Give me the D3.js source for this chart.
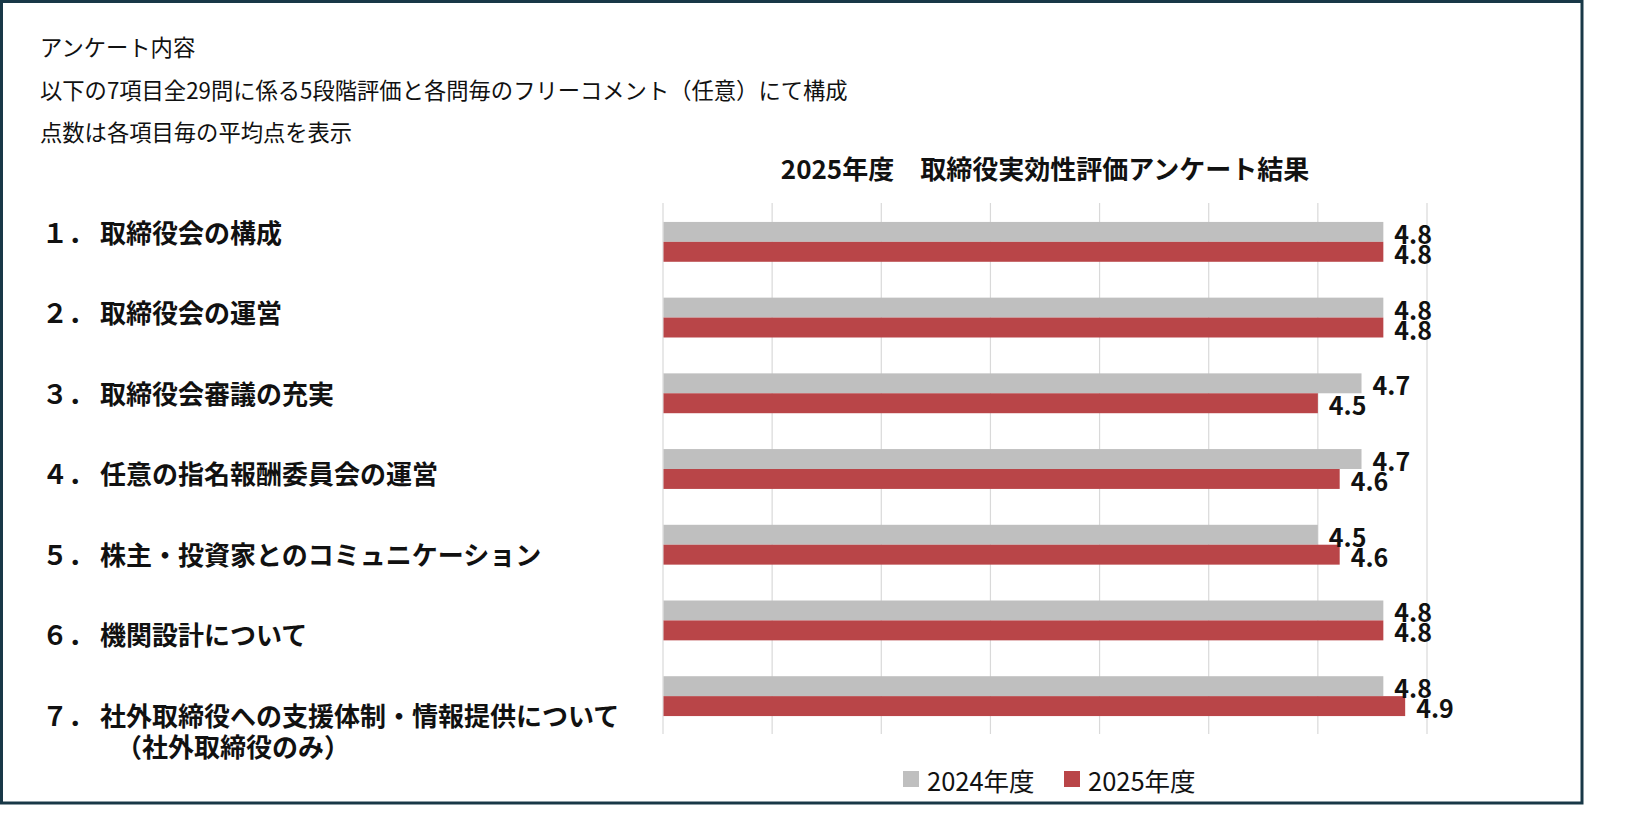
<!DOCTYPE html>
<html lang="ja">
<head>
<meta charset="utf-8">
<script src="https://cdn.jsdelivr.net/npm/d3@7"></script>
<style>
  html, body { margin: 0; padding: 0; background: #fff; }
  svg { display: block; font-family: "Noto Sans CJK JP", "Noto Sans", sans-serif; }
</style>
</head>
<body>
<svg id="chart" width="1650" height="814"></svg>
<script>
// ---- data ----
const headerLines = [
  "アンケート内容",
  "以下の7項目全29問に係る5段階評価と各問毎のフリーコメント（任意）にて構成",
  "点数は各項目毎の平均点を表示"
];
const chartTitle = "2025年度　取締役実効性評価アンケート結果";
const itemNumbers = ["１．", "２．", "３．", "４．", "５．", "６．", "７．"];
const categories = [
  "取締役会の構成",
  "取締役会の運営",
  "取締役会審議の充実",
  "任意の指名報酬委員会の運営",
  "株主・投資家とのコミュニケーション",
  "機関設計について",
  "社外取締役への支援体制・情報提供について"
];
const categoryNotes = ["", "", "", "", "", "", "（社外取締役のみ）"];
const seriesNames = ["2024年度", "2025年度"];
const values2024 = [4.8, 4.8, 4.7, 4.7, 4.5, 4.8, 4.8];
const values2025 = [4.8, 4.8, 4.5, 4.6, 4.6, 4.8, 4.9];
const xTicks = [1.5, 2, 2.5, 3, 3.5, 4, 4.5, 5];
const xDomain = [1.5, 5];

// ---- styles ----
const colors = { "2024年度": "#BFBFBF", "2025年度": "#B94548" };
const textColor = "#111";

const svg = d3.select("#chart");

// background + frame
svg.append("rect").attr("x", 0).attr("y", 0).attr("width", 1650).attr("height", 814).attr("fill", "#fff");
svg.append("rect")
  .attr("x", 1.5).attr("y", 1.5).attr("width", 1580.5).attr("height", 801.5)
  .attr("fill", "none").attr("stroke", "#183847").attr("stroke-width", 3);

// header text
const headerY = d3.scalePoint().domain(d3.range(headerLines.length)).range([46, 131]);
svg.append("g").selectAll("text").data(headerLines).join("text")
  .attr("x", 40).attr("y", (d, i) => headerY(i))
  .attr("dominant-baseline", "central")
  .attr("font-size", 22.3).attr("fill", textColor)
  .text(d => d);

// scales
const x = d3.scaleLinear().domain(xDomain).range([663, 1427]);
const y0 = d3.scaleBand().domain(categories).range([204, 734]).padding(0);
const y1 = d3.scaleBand().domain(seriesNames).range([0, y0.bandwidth()]).paddingOuter(0.9).paddingInner(0);

// title
svg.append("text")
  .attr("x", (x.range()[0] + x.range()[1]) / 2).attr("y", 167)
  .attr("text-anchor", "middle").attr("dominant-baseline", "central")
  .attr("font-size", 26).attr("font-weight", 700).attr("fill", textColor)
  .text(chartTitle);

// gridlines
svg.append("g").selectAll("line").data(xTicks).join("line")
  .attr("x1", d => x(d)).attr("x2", d => x(d))
  .attr("y1", y0.range()[0] - 1).attr("y2", y0.range()[1])
  .attr("stroke", "#D9D9D9").attr("stroke-width", 1.2);

// bars
const rows = categories.map((c, i) => ({
  cat: c,
  vals: [
    { s: seriesNames[0], v: values2024[i] },
    { s: seriesNames[1], v: values2025[i] }
  ]
}));

const groups = svg.append("g").selectAll("g").data(rows).join("g")
  .attr("transform", d => `translate(0,${y0(d.cat)})`);

groups.selectAll("rect").data(d => d.vals).join("rect")
  .attr("x", x(xDomain[0]) + 0.5)
  .attr("y", d => y1(d.s))
  .attr("width", d => x(d.v) - x(xDomain[0]) - 0.5)
  .attr("height", y1.bandwidth())
  .attr("fill", d => colors[d.s]);

groups.selectAll("text").data(d => d.vals).join("text")
  .attr("x", d => x(d.v) + 11)
  .attr("y", d => y1(d.s) + y1.bandwidth() / 2 + 1)
  .attr("dominant-baseline", "central")
  .attr("font-size", 25).attr("font-weight", 700).attr("fill", textColor)
  .text(d => d3.format(".1f")(d.v));

// category labels (separate text boxes on the left)
const labelY = d3.scalePoint().domain(categories).range([231, 714]);
const labels = svg.append("g").selectAll("g").data(categories).join("g");
labels.append("text")
  .attr("x", 42).attr("y", d => labelY(d))
  .attr("dominant-baseline", "central")
  .attr("font-size", 26).attr("font-weight", 700).attr("fill", textColor)
  .text((d, i) => itemNumbers[i]);
labels.append("text")
  .attr("x", 100).attr("y", d => labelY(d))
  .attr("dominant-baseline", "central")
  .attr("font-size", 26).attr("font-weight", 700).attr("fill", textColor)
  .text(d => d);
labels.filter((d, i) => categoryNotes[i] !== "").append("text")
  .attr("x", 116).attr("y", d => labelY(d) + 31)
  .attr("dominant-baseline", "central")
  .attr("font-size", 26).attr("font-weight", 700).attr("fill", textColor)
  .text(d => categoryNotes[categories.indexOf(d)]);

// legend
const legendX = d3.scaleOrdinal().domain(seriesNames).range([903, 1064]);
const legend = svg.append("g").selectAll("g").data(seriesNames).join("g")
  .attr("transform", d => `translate(${legendX(d)},779)`);
legend.append("rect").attr("x", 0).attr("y", -8).attr("width", 16).attr("height", 16)
  .attr("fill", d => colors[d]);
legend.append("text").attr("x", 24).attr("y", 0)
  .attr("dominant-baseline", "central")
  .attr("font-size", 25.5).attr("fill", textColor)
  .text(d => d);
</script>
</body>
</html>
